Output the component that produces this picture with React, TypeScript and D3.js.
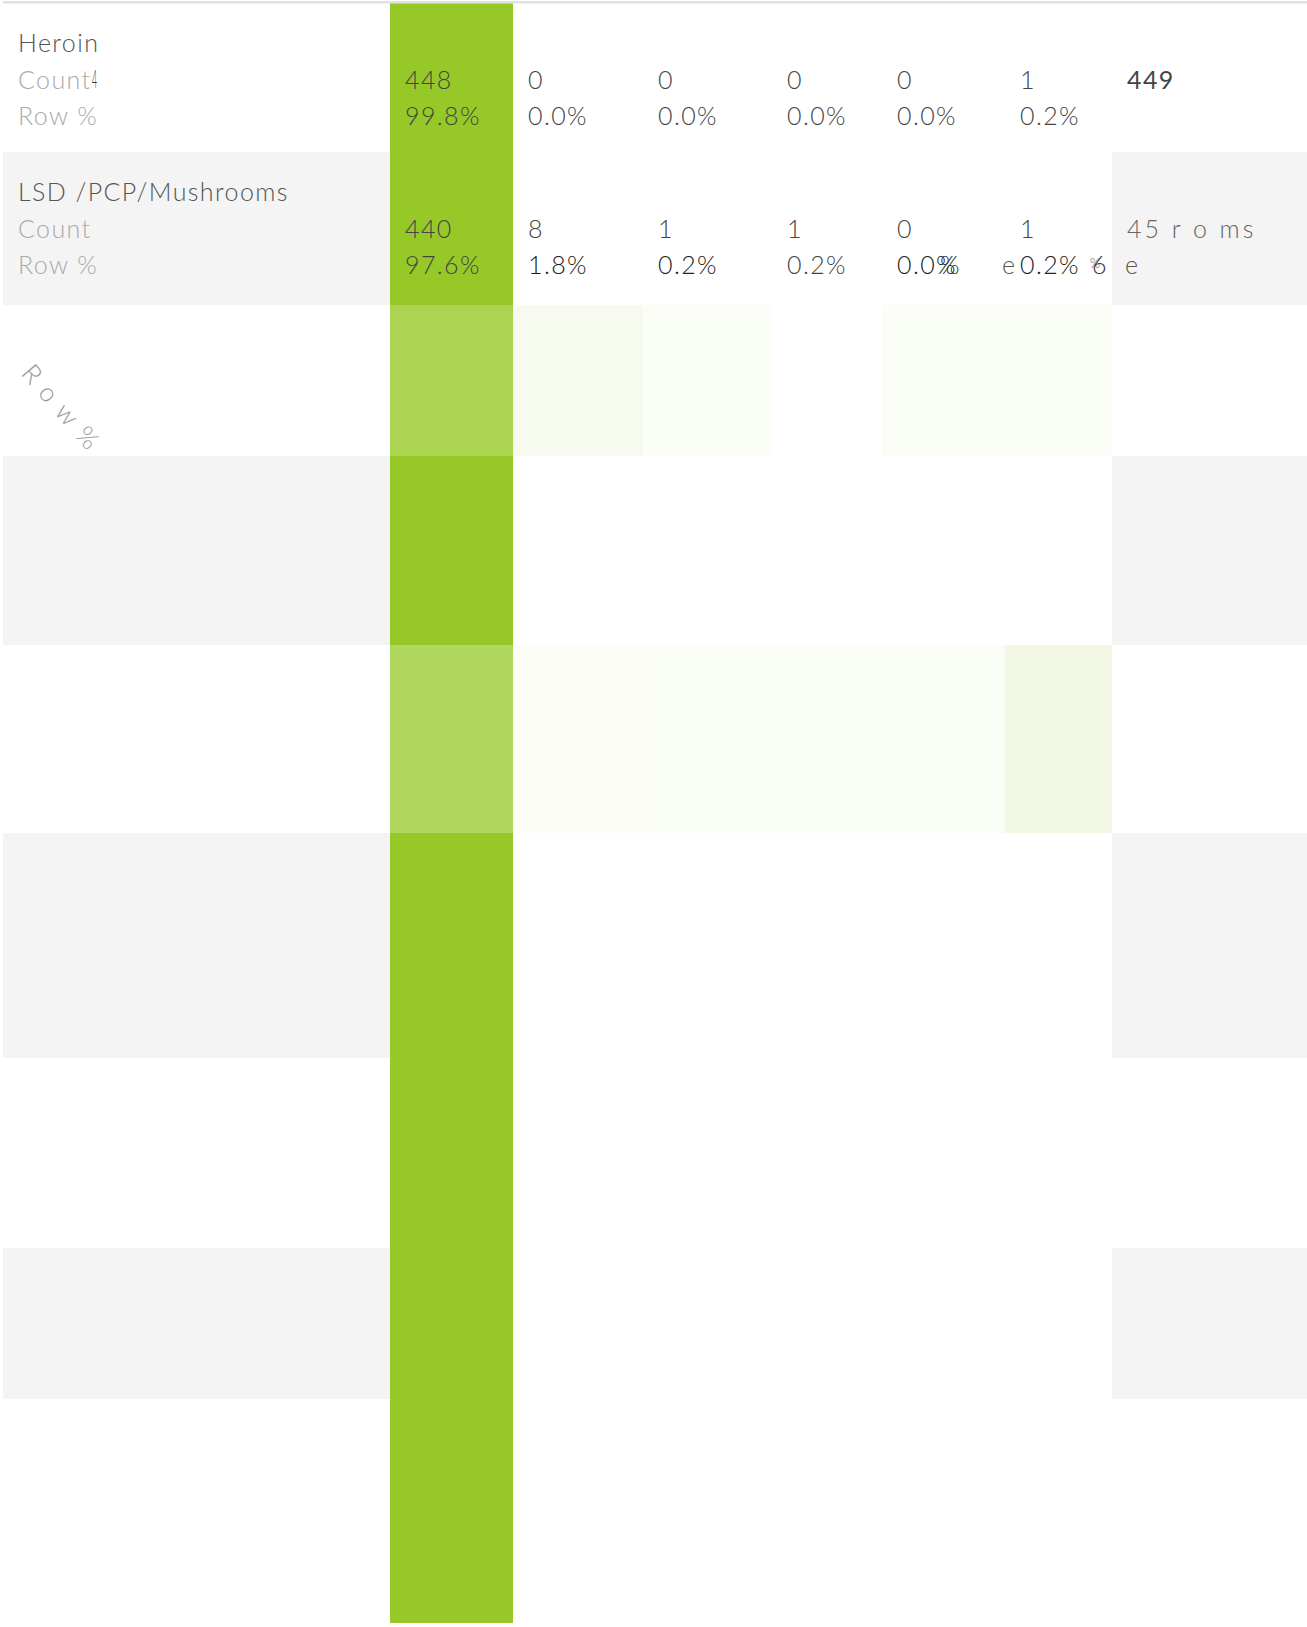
import React from "react";
import * as d3 from "d3";

// ---- data ----
const rowLabels = ["Heroin", "LSD /PCP/Mushrooms"];
const columnKeys = ["c0", "c1", "c2", "c3", "c4", "c5"];
const heroinCounts = [448, 0, 0, 0, 0, 1];
const heroinRowPct = ["99.8%", "0.0%", "0.0%", "0.0%", "0.0%", "0.2%"];
const heroinTotal = "449";
const lsdCounts = [440, 8, 1, 1, 0, 1];
const lsdRowPct = ["97.6%", "1.8%", "0.2%", "0.2%", "0.0%", "0.2%"];
const lsdTotal = "45 r o ms";
// shading intensity for the tinted rows (row 3 and row 5), per column
const shadeRow3 = [0.8, 0.076, 0.038, 0, 0.038, 0.038];
const shadeRow5 = [0.75, 0.04, 0.035, 0.035, 0.035, 0.124];

// ---- layout ----
const W = 1307;
const H = 1627;
const rowEdges = [3, 152, 305, 456, 645, 833, 1058, 1248, 1399, 1623];
const colEdges = [390, 513, 643, 772, 882, 1005, 1112];
const GREEN = "#96c928";
const FONT = "Lato, 'Open Sans', sans-serif";

const xCol = d3.scaleOrdinal<string, number>().domain(columnKeys).range(colEdges.slice(0, 6));
const wCol = (i: number) => colEdges[i + 1] - colEdges[i];
const tint = d3.interpolateRgb("#ffffff", GREEN);

export default function App() {
  const rows = d3.range(rowEdges.length - 1);
  const shaded: Record<number, number[]> = { 2: shadeRow3, 4: shadeRow5 };
  const textRows = [
    { label: rowLabels[0], counts: heroinCounts, pct: heroinRowPct, total: heroinTotal, top: rowEdges[0] },
    { label: rowLabels[1], counts: lsdCounts, pct: lsdRowPct, total: lsdTotal, top: rowEdges[1] },
  ];
  return (
    <svg width={W} height={H} style={{ position: "absolute", left: 0, top: 0, background: "#fff" }} fontFamily={FONT}>
      {/* gray bands */}
      {rows.filter((r) => r % 2 === 1).map((r) => (
        <g key={"band" + r}>
          <rect x={3} y={rowEdges[r]} width={colEdges[0] - 3} height={rowEdges[r + 1] - rowEdges[r]} fill="#f4f4f4" />
          <rect x={colEdges[6]} y={rowEdges[r]} width={W - colEdges[6]} height={rowEdges[r + 1] - rowEdges[r]} fill="#f4f4f4" />
        </g>
      ))}
      {/* green first column */}
      <rect x={xCol("c0")} y={rowEdges[0]} width={wCol(0)} height={rowEdges[rowEdges.length - 1] - rowEdges[0]} fill={GREEN} />
      {/* tinted rows */}
      {Object.entries(shaded).map(([r, vals]) =>
        vals.map((v, i) => (
          <rect key={r + "-" + i} x={xCol(columnKeys[i])} y={rowEdges[+r]} width={wCol(i)}
            height={rowEdges[+r + 1] - rowEdges[+r]} fill={tint(v)} />
        ))
      )}
      {/* top border */}
      <rect x={3} y={1} width={W - 3} height={2.5} fill="#e2e2e2" />

      {/* text rows */}
      {textRows.map((t, ri) => {
        const y1 = t.top + 49;
        const y2 = y1 + 36.5;
        const y3 = y2 + 36.5;
        return (
          <g key={"t" + ri} fontSize={25} fontWeight={300} letterSpacing={1.4}>
            <text x={18} y={y1} fill="#555">{t.label}</text>
            <text x={18} y={y2} fill="#aaa">Count</text>
            <text x={18} y={y3} fill="#aaa">Row %</text>
            {t.counts.map((c, i) => (
              <text key={"c" + i} x={xCol(columnKeys[i]) + 15} y={y2} fill="#444">{c}</text>
            ))}
            {t.pct.map((p, i) => (
              <text key={"p" + i} x={xCol(columnKeys[i]) + 15} y={y3}
                fill={ri === 1 && (i === 1 || i === 2 || i === 4 || i === 5) ? "#222" : "#444"}>{p}</text>
            ))}
            <text x={colEdges[6] + 15} y={y2} fill={ri === 0 ? "#444" : "#666"} fontWeight={ri === 0 ? 400 : 300}
              letterSpacing={ri === 0 ? 1.4 : 3}>{t.total}</text>
          </g>
        );
      })}
      {/* glitch fragments */}
      <g fontSize={25} fontWeight={300}>
        <text x={92} y={rowEdges[0] + 85.5} fill="#333" transform={`translate(92,0) scale(0.35,1) translate(-92,0)`}>4</text>
        <text x={940} y={rowEdges[1] + 122} fill="#333">%</text>
        <text x={1002} y={rowEdges[1] + 122} fill="#555">e</text>
        <text x={1092} y={rowEdges[1] + 122} fill="#333">6</text>
        <text x={1090} y={rowEdges[1] + 116} fill="#555" fontSize={13}>%</text>
        <text x={1125} y={rowEdges[1] + 122} fill="#555">e</text>
      </g>
      {/* rotated label in row 3 */}
      <text x={0} y={0} fontSize={26} fontWeight={300} fill="#999" letterSpacing={11}
        transform={`translate(20,374) rotate(49)`}>Row%</text>
    </svg>
  );
}
